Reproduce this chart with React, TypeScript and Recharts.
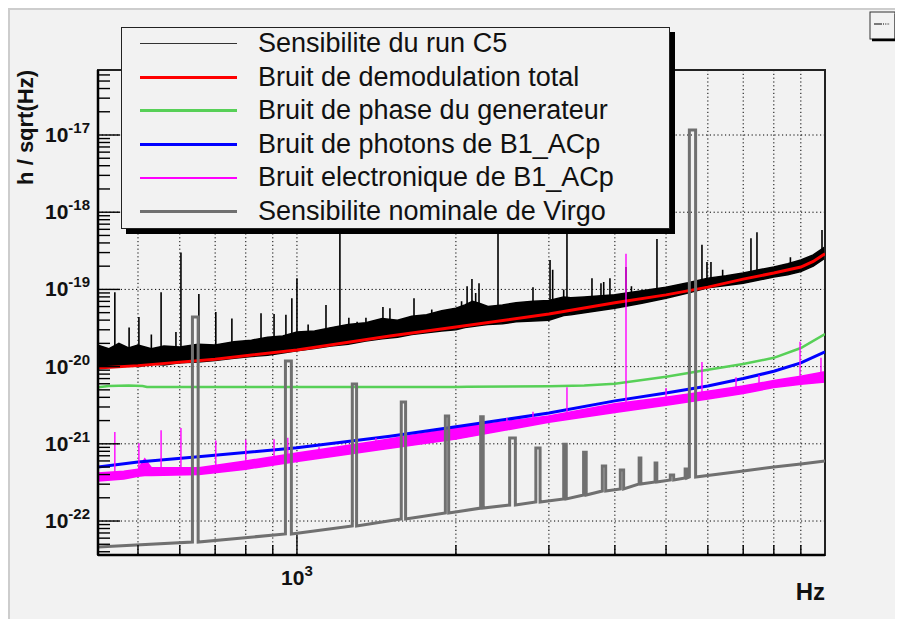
import {
  ComposedChart,
  Line,
  Area,
  XAxis,
  YAxis,
  CartesianGrid,
  ReferenceArea,
} from 'recharts';

const FONT = '"Liberation Sans", Arial, Helvetica, sans-serif';

// axes
const X_MIN = 420;
const X_MAX = 10000;
const Y_MIN = 3.63e-23;
const Y_MAX = 6.95e-17;
const X_TICKS = [500, 600, 700, 800, 900, 1000, 2000, 3000, 4000, 5000, 6000, 7000, 8000, 9000];
const X_MAJOR = [1000];
const Y_DECADES = [1e-22, 1e-21, 1e-20, 1e-19, 1e-18, 1e-17];
const Y_TICK_DECADES = [1e-23, 1e-22, 1e-21, 1e-20, 1e-19, 1e-18, 1e-17];
const Y_MINOR_STEPS = [1, 2, 3, 4, 5, 6, 7, 8, 9];

// Sensibilite du run C5 : bande de bruit [f, bas, haut]
const runBand: [number, number, number][] = [
  [420, 9.5e-21, 1.9e-20], [440, 1.0e-20, 1.7e-20], [460, 9.8e-21, 2.0e-20],
  [480, 1.05e-20, 1.75e-20], [500, 1.0e-20, 1.9e-20], [530, 1.08e-20, 1.7e-20],
  [560, 1.05e-20, 1.85e-20], [600, 1.12e-20, 1.8e-20], [650, 1.15e-20, 1.95e-20],
  [700, 1.2e-20, 1.9e-20], [760, 1.28e-20, 2.1e-20], [820, 1.35e-20, 2.2e-20],
  [880, 1.4e-20, 2.4e-20], [940, 1.5e-20, 2.5e-20], [1000, 1.6e-20, 2.8e-20],
  [1080, 1.72e-20, 2.9e-20], [1160, 1.85e-20, 3.2e-20], [1250, 1.95e-20, 3.5e-20],
  [1350, 2.15e-20, 3.7e-20], [1450, 2.3e-20, 4.2e-20], [1550, 2.4e-20, 4.0e-20],
  [1650, 2.6e-20, 4.5e-20], [1760, 2.75e-20, 4.7e-20], [1880, 2.9e-20, 5.3e-20],
  [2000, 3.0e-20, 5.7e-20], [2080, 3.2e-20, 6.3e-20], [2150, 3.3e-20, 7.0e-20],
  [2220, 3.4e-20, 6.6e-20], [2300, 3.5e-20, 6.0e-20], [2450, 3.6e-20, 6.3e-20],
  [2600, 3.8e-20, 6.7e-20], [2800, 3.9e-20, 7.0e-20], [3000, 4.0e-20, 7.2e-20],
  [3200, 4.6e-20, 8.0e-20], [3300, 4.7e-20, 7.8e-20], [3500, 5.0e-20, 8.0e-20],
  [4000, 5.7e-20, 8.5e-20], [4500, 6.6e-20, 9.6e-20], [5000, 7.7e-20, 1.07e-19],
  [5500, 9.0e-20, 1.22e-19], [6000, 1.05e-19, 1.4e-19], [6500, 1.12e-19, 1.5e-19],
  [7000, 1.2e-19, 1.63e-19], [7500, 1.32e-19, 1.8e-19], [8000, 1.45e-19, 1.95e-19],
  [8500, 1.55e-19, 2.15e-19], [9000, 1.7e-19, 2.4e-19], [9500, 2.0e-19, 2.8e-19],
  [10000, 2.55e-19, 3.55e-19],
];

// raies du run C5 [f, pied, sommet]
const runLines: [number, number, number][] = [
  [452, 1.4e-20, 9.2e-20], [481, 1.4e-20, 3.2e-20], [502, 1.4e-20, 4.4e-20],
  [530, 1.4e-20, 2.6e-20], [553, 1.4e-20, 9.2e-20], [590, 1.4e-20, 2.8e-20],
  [603, 1.5e-20, 3.0e-19], [652, 1.5e-20, 8.7e-20], [702, 1.5e-20, 5.1e-20],
  [753, 1.6e-20, 4.2e-20], [855, 1.7e-20, 4.9e-20], [905, 1.8e-20, 4.8e-20],
  [953, 1.9e-20, 4.7e-20], [978, 1.9e-20, 7.7e-20], [1000, 2.0e-20, 1.4e-19],
  [1050, 2.0e-20, 3.5e-20], [1135, 2.2e-20, 6.3e-20], [1206, 2.3e-20, 3e-18],
  [1254, 2.4e-20, 4.3e-20], [1300, 2.5e-20, 3.8e-20], [1351, 2.6e-20, 4.3e-20],
  [1455, 2.8e-20, 5.9e-20], [1500, 2.9e-20, 5.7e-20], [1666, 3.1e-20, 7.7e-20],
  [1800, 3.5e-20, 5.5e-20], [2050, 3.8e-20, 7.0e-20], [2100, 3.9e-20, 1.1e-19],
  [2145, 4.0e-20, 1.36e-19], [2180, 4.0e-20, 9.0e-20], [2212, 4.1e-20, 1.2e-19],
  [2403, 4.4e-20, 3e-18], [2799, 5.0e-20, 1.07e-19], [3015, 5.5e-20, 2.4e-19],
  [3050, 5.5e-20, 1.8e-19], [3200, 5.9e-20, 1.0e-19], [3246, 6.0e-20, 3e-18],
  [3620, 6.5e-20, 1.4e-19], [3765, 6.8e-20, 1.2e-19], [3810, 6.8e-20, 1.25e-19],
  [3915, 7.0e-20, 1.4e-19], [4199, 7.5e-20, 1.95e-19], [4300, 7.7e-20, 1.1e-19],
  [4806, 8.5e-20, 4.5e-19], [5848, 1.1e-19, 3.8e-19], [5977, 1.15e-19, 2.26e-19],
  [6082, 1.15e-19, 2.26e-19], [6400, 1.2e-19, 1.8e-19], [7241, 1.5e-19, 4.6e-19],
  [7433, 1.55e-19, 5.5e-19], [8600, 1.8e-19, 2.6e-19], [9870, 3.0e-19, 5.9e-19],
];

// Bruit de demodulation total
const demod: [number, number][] = [
  [420, 9.6e-21], [500, 1.03e-20], [700, 1.25e-20], [1000, 1.64e-20], [1500, 2.5e-20],
  [2000, 3.26e-20], [3000, 4.8e-20], [4000, 6.7e-20], [5000, 8.5e-20], [6000, 1.07e-19],
  [7000, 1.36e-19], [8000, 1.63e-19], [9000, 1.95e-19], [9500, 2.3e-19], [10000, 2.9e-19],
];

// Bruit de phase du generateur
const phase: [number, number][] = [
  [420, 5.4e-21], [440, 5.6e-21], [480, 5.7e-21], [510, 5.6e-21], [520, 5.45e-21],
  [1000, 5.45e-21], [2000, 5.45e-21], [2100, 5.5e-21], [3000, 5.55e-21], [3500, 5.7e-21],
  [4000, 6.0e-21], [5000, 7.4e-21], [6000, 9.1e-21], [7000, 1.08e-20], [8000, 1.3e-20],
  [9000, 1.74e-20], [10000, 2.64e-20],
];

// Bruit de photons de B1_ACp
const photons: [number, number][] = [
  [420, 5.0e-22], [500, 5.8e-22], [650, 6.8e-22], [1000, 8.9e-22], [1500, 1.25e-21],
  [2000, 1.66e-21], [3000, 2.5e-21], [4000, 3.6e-21], [5000, 4.55e-21], [6000, 5.6e-21],
  [7000, 7.0e-21], [8000, 8.7e-21], [9000, 1.12e-20], [10000, 1.55e-20],
];

// Bruit electronique de B1_ACp : bande [f, bas, haut]
const elecBand: [number, number, number][] = [
  [420, 3.3e-22, 4.2e-22], [470, 3.5e-22, 4.4e-22], [500, 3.8e-22, 4.7e-22],
  [515, 3.9e-22, 6.4e-22], [530, 3.9e-22, 4.9e-22], [652, 4.0e-22, 4.9e-22],
  [800, 4.7e-22, 6.0e-22], [1000, 5.9e-22, 7.6e-22], [1400, 8.2e-22, 1.07e-21],
  [2000, 1.15e-21, 1.6e-21], [3000, 1.9e-21, 2.3e-21], [4000, 2.55e-21, 3.3e-21],
  [5000, 3.15e-21, 4.0e-21], [6000, 3.8e-21, 4.8e-21], [7000, 4.5e-21, 5.6e-21],
  [8000, 5.35e-21, 6.6e-21], [9000, 5.9e-21, 7.5e-21], [10000, 6.3e-21, 8.6e-21],
];

// raies electroniques [f, pied, sommet]
const elecLines: [number, number, number][] = [
  [452, 4.0e-22, 1.42e-21], [502, 4.3e-22, 1.02e-21], [553, 4.5e-22, 1.5e-21],
  [603, 4.6e-22, 1.6e-21], [702, 5.0e-22, 1.1e-21], [800, 5.5e-22, 1.13e-21],
  [905, 6.0e-22, 1.15e-21], [961, 6.3e-22, 1.2e-21], [1101, 7.5e-22, 9.0e-22],
  [1411, 9.0e-22, 1.19e-21], [2498, 1.5e-21, 2.16e-21], [2799, 1.8e-21, 2.6e-21],
  [3246, 2.1e-21, 5.4e-21], [4199, 2.9e-21, 2.9e-19], [5000, 3.4e-21, 5.3e-21],
  [5848, 4.0e-21, 1.15e-20], [6784, 4.6e-21, 7.3e-21], [7500, 5.1e-21, 7.8e-21],
  [8969, 6.0e-21, 2.1e-20], [9826, 7.0e-21, 1.3e-20],
];

// Sensibilite nominale de Virgo : fond continu + modes [fGauche, fDroite, pied, sommet]
const nominalFloor: [number, number][] = [
  [420, 4.6e-23], [7000, 4.44e-22], [8000, 5.0e-22], [9000, 5.47e-22], [10000, 6.0e-22],
];
const nominalModes: [number, number, number, number][] = [
  [634, 650, 5.35e-23, 4.39e-20], [951, 976, 6.79e-23, 1.18e-20],
  [1273, 1297, 8.61e-23, 5.95e-21], [1576, 1606, 1.06e-22, 3.48e-21],
  [1910, 1938, 1.27e-22, 2.29e-21], [2228, 2253, 1.47e-22, 2.24e-21],
  [2528, 2592, 1.61e-22, 1.19e-21], [2834, 2887, 1.76e-22, 8.8e-22],
  [3200, 3236, 1.93e-22, 9.9e-22], [3490, 3530, 2.17e-22, 7.8e-22],
  [3787, 3843, 2.45e-22, 5.16e-22], [4096, 4156, 2.6e-22, 4.58e-22],
  [4447, 4480, 3.02e-22, 6.55e-22], [4767, 4803, 3.2e-22, 5.64e-22],
  [5094, 5169, 3.4e-22, 3.94e-22], [5434, 5474, 3.6e-22, 4.72e-22],
  [5535, 5688, 3.71e-22, 1.16e-17],
];

const LEGEND_NAMES = [
  'Sensibilite du run C5',
  'Bruit de demodulation total',
  'Bruit de phase du generateur',
  'Bruit de photons de B1_ACp',
  'Bruit electronique de B1_ACp',
  'Sensibilite nominale de Virgo',
];
const COLORS = ['#000000', '#ff0000', '#57d057', '#0000ff', '#ff00ff', '#707070'];
const LEGEND_WIDTHS = [1.5, 3, 3, 3, 1.5, 3];

// tables pour recharts
const toRows = (pts: [number, number][]) => pts.map(([f, v]) => ({ f, v }));
const bandRows = (pts: [number, number, number][]) => pts.map(([f, lo, hi]) => ({ f, r: [lo, hi] }));
const spikeRows = (pts: [number, number, number][]) =>
  pts.flatMap(([f, lo, hi]) => [{ f, v: lo }, { f, v: hi }, { f, v: null }]);
const nominalRows = [
  ...nominalFloor.map(([f, v]) => ({ f, v })),
  ...nominalModes.flatMap(([fl, fr, lo, hi]) => [
    { f: fl, v: lo }, { f: fl, v: hi }, { f: fr, v: hi }, { f: fr, v: lo },
  ]),
].sort((a, b) => a.f - b.f);

const Y_TICKS = Y_TICK_DECADES.flatMap((d) => Y_MINOR_STEPS.map((s) => d * s)).filter(
  (v) => v >= Y_MIN && v <= Y_MAX
);

const YTick = (props: any) => {
  const { x, y, payload } = props;
  const lg = Math.log10(payload.value);
  const exp = Math.round(lg);
  const major = Math.abs(lg - exp) < 1e-6;
  return (
    <g>
      <line x1={x} x2={x + (major ? 22 : 12)} y1={y} y2={y} stroke="#000" strokeWidth={1.4} />
      {major && (
        <text x={x - 8} y={y + 7} textAnchor="end" fontFamily={FONT} fontWeight="bold" fontSize={21} fill="#111">
          10
          <tspan dy={-9} fontSize={15}>{exp}</tspan>
        </text>
      )}
    </g>
  );
};

const XTick = (props: any) => {
  const { x, y, payload } = props;
  const major = X_MAJOR.includes(payload.value);
  return (
    <g>
      <line x1={x} x2={x} y1={y} y2={y - (major ? 20 : 10)} stroke="#000" strokeWidth={1.4} />
      {major && (
        <text x={x} y={y + 30} textAnchor="middle" fontFamily={FONT} fontWeight="bold" fontSize={21} fill="#111">
          10
          <tspan dy={-9} fontSize={15}>{Math.round(Math.log10(payload.value))}</tspan>
        </text>
      )}
    </g>
  );
};

const YTitle = (props: any) => {
  const vb = props.viewBox || { x: 0, y: 62 };
  const x = vb.x + 25;
  const y = vb.y;
  return (
    <text x={x} y={y} transform={`rotate(-90 ${x} ${y})`} textAnchor="end" fontFamily={FONT} fontWeight="bold" fontSize={22} fill="#111">
      h / sqrt(Hz)
    </text>
  );
};

const XTitle = (props: any) => {
  const vb = props.viewBox || { x: 90, y: 547, width: 727 };
  return (
    <text x={vb.x + vb.width} y={vb.y + 45} textAnchor="end" fontFamily={FONT} fontWeight="bold" fontSize={24} fill="#111">
      Hz
    </text>
  );
};

const LegendBox = () => (
  <div
    style={{
      position: 'absolute',
      left: 113,
      top: 19,
      width: 549,
      height: 202,
      boxSizing: 'border-box',
      border: '1.5px solid #222',
      boxShadow: '5px 5px 0 #000',
      background: '#f2f2f2',
      fontFamily: FONT,
    }}
  >
    {LEGEND_NAMES.map((name, i) => (
      <div key={name} style={{ position: 'absolute', left: 0, top: i * 33.6, height: 33.6, width: '100%' }}>
        <div
          style={{
            position: 'absolute',
            left: 18,
            top: 15.5 - LEGEND_WIDTHS[i] / 2,
            width: 97,
            height: LEGEND_WIDTHS[i],
            background: i === 0 ? '#333' : COLORS[i],
          }}
        />
        <div style={{ position: 'absolute', left: 136, top: 0, fontSize: 27, lineHeight: '30px', color: '#111', whiteSpace: 'nowrap' }}>
          {name}
        </div>
      </div>
    ))}
  </div>
);

const Icon = () => (
  <svg style={{ position: 'absolute', left: 861, top: 3 }} width={30} height={32}>
    <rect x={1} y={1} width={25} height={27} fill="#f2f2f2" stroke="#333" strokeWidth={1} />
    <line x1={27} y1={3} x2={27} y2={30} stroke="#000" strokeWidth={2.5} />
    <line x1={3} y1={29} x2={28} y2={29} stroke="#000" strokeWidth={2.5} />
    <line x1={5} y1={13} x2={13} y2={13} stroke="#000" strokeWidth={1} />
    <line x1={14} y1={13} x2={21} y2={13} stroke="#000" strokeWidth={1} strokeDasharray="1 1.3" />
  </svg>
);

export default function App() {
  return (
    <div
      style={{
        position: 'relative',
        width: 895,
        height: 611,
        background: '#f2f2f2',
        boxShadow: 'inset 2px 2px 0 #cdcdcd',
      }}
    >
      <ComposedChart width={895} height={611} margin={{ top: 62, right: 78, bottom: 0, left: 0 }}>
        <CartesianGrid
          horizontalValues={Y_DECADES}
          verticalValues={X_TICKS}
          stroke="#000"
          strokeDasharray="1.2 2.6"
          strokeWidth={1}
        />
        <XAxis
          type="number"
          dataKey="f"
          scale="log"
          domain={[X_MIN, X_MAX]}
          allowDataOverflow
          ticks={X_TICKS}
          interval={0}
          tick={XTick}
          tickSize={0}
          tickMargin={0}
          tickLine={false}
          height={64}
          axisLine={{ stroke: '#000', strokeWidth: 2.5 }}
          label={XTitle}
        />
        <YAxis
          type="number"
          scale="log"
          domain={[Y_MIN, Y_MAX]}
          allowDataOverflow
          ticks={Y_TICKS}
          interval={0}
          tick={YTick}
          tickSize={0}
          tickMargin={0}
          tickLine={false}
          width={90}
          axisLine={{ stroke: '#000', strokeWidth: 2.5 }}
          label={YTitle}
        />
        <Area
          data={bandRows(runBand)}
          dataKey="r"
          type="linear"
          stroke="#000"
          strokeWidth={1.5}
          fill="#000"
          fillOpacity={1}
          isAnimationActive={false}
          dot={false}
          activeDot={false}
        />
        <Line data={spikeRows(runLines)} dataKey="v" type="linear" stroke="#000" strokeWidth={1.6} dot={false} activeDot={false} connectNulls={false} isAnimationActive={false} />
        <Line data={toRows(demod)} dataKey="v" type="linear" stroke={COLORS[1]} strokeWidth={3} dot={false} activeDot={false} isAnimationActive={false} />
        <Line data={toRows(phase)} dataKey="v" type="linear" stroke={COLORS[2]} strokeWidth={2.5} dot={false} activeDot={false} isAnimationActive={false} />
        <Line data={toRows(photons)} dataKey="v" type="linear" stroke={COLORS[3]} strokeWidth={3} dot={false} activeDot={false} isAnimationActive={false} />
        <Area
          data={bandRows(elecBand)}
          dataKey="r"
          type="linear"
          stroke={COLORS[4]}
          strokeWidth={1.5}
          fill={COLORS[4]}
          fillOpacity={1}
          isAnimationActive={false}
          dot={false}
          activeDot={false}
        />
        <Line data={spikeRows(elecLines)} dataKey="v" type="linear" stroke={COLORS[4]} strokeWidth={1.4} dot={false} activeDot={false} connectNulls={false} isAnimationActive={false} />
        <Line data={nominalRows} dataKey="v" type="linear" stroke={COLORS[5]} strokeWidth={3} dot={false} activeDot={false} isAnimationActive={false} />
        <ReferenceArea x1={X_MIN} x2={X_MAX} y1={Y_MIN} y2={Y_MAX} fill="none" stroke="#222" strokeWidth={2} ifOverflow="visible" />
      </ComposedChart>
      <LegendBox />
      <Icon />
    </div>
  );
}
